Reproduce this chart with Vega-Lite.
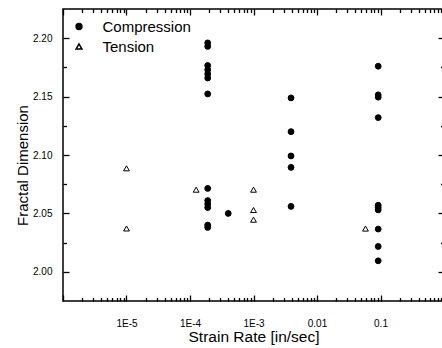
{
  "$schema": "https://vega.github.io/schema/vega-lite/v6.json",
  "width": 381,
  "height": 292,
  "autosize": {"type": "none"},
  "padding": {"left": 63, "top": 9, "right": -2, "bottom": 47},
  "background": "white",
  "config": {
    "view": {"stroke": "black", "strokeWidth": 1.5},
    "axis": {
      "grid": false,
      "domain": false,
      "ticks": true,
      "tickColor": "black",
      "tickWidth": 1.3,
      "labelColor": "black",
      "labelFont": "Liberation Sans",
      "labelFontSize": 10,
      "titleFont": "Liberation Sans",
      "titleColor": "black",
      "titleFontWeight": "normal",
      "labelFlush": false,
      "labelOverlap": false
    }
  },
  "data": {
    "values": [
      {"rate": 0.00019, "fd": 2.196, "mode": "Compression"},
      {"rate": 0.00019, "fd": 2.193, "mode": "Compression"},
      {"rate": 0.00019, "fd": 2.1766, "mode": "Compression"},
      {"rate": 0.00019, "fd": 2.173, "mode": "Compression"},
      {"rate": 0.00019, "fd": 2.1694, "mode": "Compression"},
      {"rate": 0.00019, "fd": 2.1659, "mode": "Compression"},
      {"rate": 0.00019, "fd": 2.1523, "mode": "Compression"},
      {"rate": 0.00019, "fd": 2.0714, "mode": "Compression"},
      {"rate": 0.00019, "fd": 2.061, "mode": "Compression"},
      {"rate": 0.00019, "fd": 2.058, "mode": "Compression"},
      {"rate": 0.00019, "fd": 2.055, "mode": "Compression"},
      {"rate": 0.00019, "fd": 2.040, "mode": "Compression"},
      {"rate": 0.00019, "fd": 2.038, "mode": "Compression"},
      {"rate": 0.0004, "fd": 2.050, "mode": "Compression"},
      {"rate": 0.0039, "fd": 2.1489, "mode": "Compression"},
      {"rate": 0.0039, "fd": 2.120, "mode": "Compression"},
      {"rate": 0.0039, "fd": 2.0992, "mode": "Compression"},
      {"rate": 0.0039, "fd": 2.0894, "mode": "Compression"},
      {"rate": 0.0039, "fd": 2.056, "mode": "Compression"},
      {"rate": 0.092, "fd": 2.176, "mode": "Compression"},
      {"rate": 0.092, "fd": 2.1515, "mode": "Compression"},
      {"rate": 0.092, "fd": 2.1495, "mode": "Compression"},
      {"rate": 0.092, "fd": 2.132, "mode": "Compression"},
      {"rate": 0.092, "fd": 2.057, "mode": "Compression"},
      {"rate": 0.092, "fd": 2.055, "mode": "Compression"},
      {"rate": 0.092, "fd": 2.053, "mode": "Compression"},
      {"rate": 0.092, "fd": 2.0366, "mode": "Compression"},
      {"rate": 0.092, "fd": 2.0217, "mode": "Compression"},
      {"rate": 0.092, "fd": 2.0094, "mode": "Compression"},
      {"rate": 0.00001, "fd": 2.0886, "mode": "Tension"},
      {"rate": 0.00001, "fd": 2.0371, "mode": "Tension"},
      {"rate": 0.000125, "fd": 2.0703, "mode": "Tension"},
      {"rate": 0.001, "fd": 2.0703, "mode": "Tension"},
      {"rate": 0.001, "fd": 2.0529, "mode": "Tension"},
      {"rate": 0.001, "fd": 2.0446, "mode": "Tension"},
      {"rate": 0.058, "fd": 2.037, "mode": "Tension"}
    ]
  },
  "layer": [
    {
      "mark": {"type": "point", "filled": true, "strokeWidth": 1, "size": 34, "opacity": 1},
      "encoding": {
        "x": {
          "field": "rate",
          "type": "quantitative",
          "scale": {"type": "log", "domain": [0.000001, 1], "nice": false},
          "axis": {
            "orient": "bottom",
            "title": "Strain Rate [in/sec]",
            "titleFontSize": 15.5,
            "titleBaseline": "alphabetic",
            "titleY": 40,
            "values": [0.000001, 0.00001, 0.0001, 0.001, 0.01, 0.1, 1],
            "labelExpr": "datum.value == 0.00001 ? '1E-5' : datum.value == 0.0001 ? '1E-4' : datum.value == 0.001 ? '1E-3' : datum.value == 0.01 ? '0.01' : datum.value == 0.1 ? '0.1' : datum.value == 1 ? '1' : ''",
            "tickSize": -6,
            "tickColor": "black",
            "labelPadding": 23
          }
        },
        "y": {
          "field": "fd",
          "type": "quantitative",
          "scale": {"domain": [1.975, 2.225], "nice": false, "zero": false},
          "axis": {
            "orient": "left",
            "title": "Fractal Dimension",
            "titleFontSize": 15,
            "titleAngle": 270,
            "titleBaseline": "alphabetic",
            "titleX": -36,
            "titleY": 156,
            "values": [2.0, 2.05, 2.1, 2.15, 2.2],
            "format": ".2f",
            "tickSize": -6,
            "tickColor": "black",
            "labelPadding": 17
          }
        },
        "shape": {
          "field": "mode",
          "type": "nominal",
          "scale": {"domain": ["Compression", "Tension"], "range": ["circle", "triangle-up"]},
          "legend": {"orient": "none", "legendX": 8.5, "legendY": 10, "title": null, "labelFont": "Liberation Sans", "labelFontSize": 15, "labelColor": "black", "labelOffset": 16, "rowPadding": 4, "padding": 0, "symbolSize": 34}
        },
        "fill": {
          "field": "mode",
          "type": "nominal",
          "scale": {"domain": ["Compression", "Tension"], "range": ["black", "white"]},
          "legend": {"orient": "none", "legendX": 8.5, "legendY": 10, "title": null, "labelFont": "Liberation Sans", "labelFontSize": 15, "labelColor": "black", "labelOffset": 16, "rowPadding": 4, "padding": 0, "symbolSize": 34}
        },
        "stroke": {
          "field": "mode",
          "type": "nominal",
          "scale": {"domain": ["Compression", "Tension"], "range": ["black", "black"]},
          "legend": {"orient": "none", "legendX": 8.5, "legendY": 10, "title": null, "labelFont": "Liberation Sans", "labelFontSize": 15, "labelColor": "black", "labelOffset": 16, "rowPadding": 4, "padding": 0, "symbolSize": 34}
        }
      }
    },
    {
      "mark": {"type": "point", "opacity": 0},
      "encoding": {
        "x": {
          "field": "rate",
          "type": "quantitative",
          "axis": {
            "orient": "bottom",
            "title": null,
            "labels": false,
            "tickSize": -3.5,
            "tickColor": "black",
            "values": [0.000002, 0.000003, 0.000004, 0.000005, 0.000006, 0.000007, 0.000008, 0.000009,
                       0.00002, 0.00003, 0.00004, 0.00005, 0.00006, 0.00007, 0.00008, 0.00009,
                       0.0002, 0.0003, 0.0004, 0.0005, 0.0006, 0.0007, 0.0008, 0.0009,
                       0.002, 0.003, 0.004, 0.005, 0.006, 0.007, 0.008, 0.009,
                       0.02, 0.03, 0.04, 0.05, 0.06, 0.07, 0.08, 0.09,
                       0.2, 0.3, 0.4, 0.5, 0.6, 0.7, 0.8, 0.9]
          }
        },
        "y": {
          "field": "fd",
          "type": "quantitative",
          "axis": {
            "orient": "left",
            "title": null,
            "labels": false,
            "tickSize": -3.5,
            "tickColor": "black",
            "values": [2.025, 2.075, 2.125, 2.175]
          }
        }
      }
    },
    {
      "mark": {"type": "point", "opacity": 0},
      "encoding": {
        "x": {
          "field": "rate",
          "type": "quantitative",
          "axis": {
            "orient": "top",
            "title": null,
            "labels": false,
            "tickSize": -6,
            "tickColor": "black",
            "values": [0.000001, 0.00001, 0.0001, 0.001, 0.01, 0.1, 1]
          }
        },
        "y": {
          "field": "fd",
          "type": "quantitative",
          "axis": {
            "orient": "right",
            "title": null,
            "labels": false,
            "tickSize": -6,
            "tickColor": "black",
            "values": [2.0, 2.05, 2.1, 2.15, 2.2]
          }
        }
      }
    },
    {
      "mark": {"type": "point", "opacity": 0},
      "encoding": {
        "x": {
          "field": "rate",
          "type": "quantitative",
          "axis": {
            "orient": "top",
            "title": null,
            "labels": false,
            "tickSize": -3.5,
            "tickColor": "black",
            "values": [0.000002, 0.000003, 0.000004, 0.000005, 0.000006, 0.000007, 0.000008, 0.000009,
                       0.00002, 0.00003, 0.00004, 0.00005, 0.00006, 0.00007, 0.00008, 0.00009,
                       0.0002, 0.0003, 0.0004, 0.0005, 0.0006, 0.0007, 0.0008, 0.0009,
                       0.002, 0.003, 0.004, 0.005, 0.006, 0.007, 0.008, 0.009,
                       0.02, 0.03, 0.04, 0.05, 0.06, 0.07, 0.08, 0.09,
                       0.2, 0.3, 0.4, 0.5, 0.6, 0.7, 0.8, 0.9]
          }
        },
        "y": {
          "field": "fd",
          "type": "quantitative",
          "axis": {
            "orient": "right",
            "title": null,
            "labels": false,
            "tickSize": -3.5,
            "tickColor": "black",
            "values": [2.025, 2.075, 2.125, 2.175]
          }
        }
      }
    }
  ],
  "resolve": {"axis": {"x": "independent", "y": "independent"}}
}
